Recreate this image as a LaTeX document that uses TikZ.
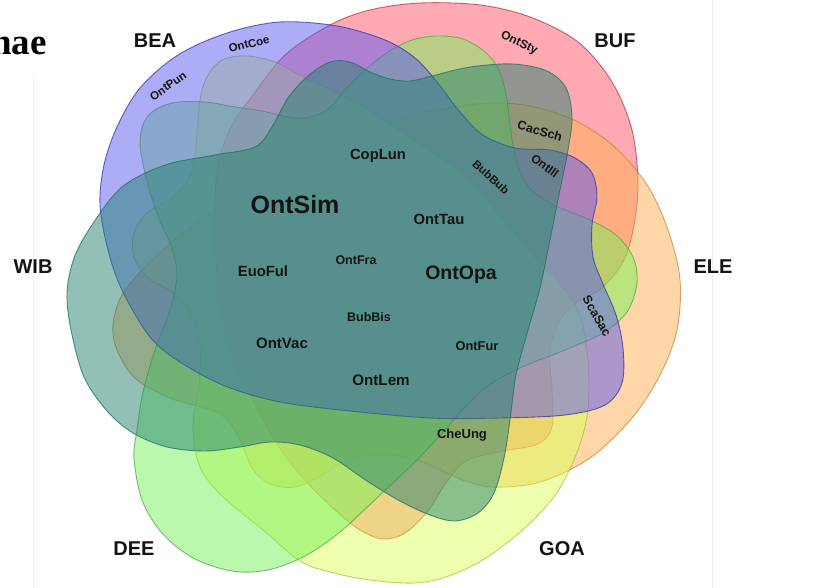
\documentclass[tikz,border=0pt]{standalone}
\usepackage{fontspec}
\setmainfont{Liberation Sans}
\newfontfamily\headserif{Liberation Serif}
\definecolor{beaC}{RGB}{90,90,240}
\definecolor{beaL}{RGB}{50,50,170}
\definecolor{bufC}{RGB}{255,85,105}
\definecolor{bufL}{RGB}{185,50,60}
\definecolor{eleC}{RGB}{255,175,80}
\definecolor{eleL}{RGB}{200,130,60}
\definecolor{goaC}{RGB}{220,255,90}
\definecolor{goaL}{RGB}{165,195,60}
\definecolor{deeC}{RGB}{120,240,90}
\definecolor{deeL}{RGB}{80,170,70}
\definecolor{wibC}{RGB}{40,130,110}
\definecolor{wibL}{RGB}{35,110,95}
\definecolor{ink}{RGB}{20,20,20}
\begin{document}
\begin{tikzpicture}[x=1pt,y=-1pt,
  region/.style={line width=0.9pt, fill opacity=0.5, draw opacity=0.75},
  setlabel/.style={font=\bfseries\fontsize{20}{20}\selectfont, text=ink, inner sep=0pt},
  sp/.style={font=\bfseries\fontsize{#1}{#1}\selectfont, text=ink, inner sep=0pt},
  frame/.style={draw=black!7, line width=0.6pt}
]
\useasboundingbox (0,0) rectangle (832,588);
\fill[white] (0,0) rectangle (832,588);
\draw[frame] (33,75) -- (33,588);
\draw[frame] (712,0) -- (712,588);

% BUF
\draw[region, fill=bufC, draw=bufL] plot[smooth cycle, tension=0.55] coordinates {
 (215,200) (219,160) (232,125) (253,95) (285,55) (330,25) (370,10) (420,3) (480,5)
 (530,17) (578,42) (612,82) (632,130) (638,183) (634,225) (624,260) (603,287)
 (578,302) (560,320) (550,350) (552,390) (552,427) (538,444) (503,451) (466,461)
 (446,483) (427,512) (405,533) (383,539) (360,530) (335,510) (303,478) (277,444)
 (253,401) (234,360) (222,315) (216,260)};

% ELE
\draw[region, fill=eleC, draw=eleL] plot[smooth cycle, tension=0.55] coordinates {
 (113,325) (122,295) (150,262) (193,225) (247,190) (300,160) (337,141) (387,123)
 (437,110) (490,103) (535,107) (580,123) (618,150) (649,188) (669,233) (680,280)
 (677,330) (660,375) (632,418) (590,458) (540,482) (492,487) (460,479) (430,465)
 (400,456) (372,455) (345,461) (320,476) (295,487) (270,484) (252,468) (240,440)
 (220,414) (170,398) (135,378) (117,350)};

% GOA
\draw[region, fill=goaC, draw=goaL] plot[smooth cycle, tension=0.55] coordinates {
 (207,77) (222,60) (247,56) (275,62) (303,77) (353,101) (403,133) (453,167)
 (485,198) (530,252) (558,281) (579,313) (587,350) (589,390) (586,422) (576,455)
 (556,494) (526,527) (486,558) (449,576) (415,583) (370,580) (330,572) (300,561)
 (262,529) (222,496) (200,467) (193,427) (199,385) (200,345) (190,312) (172,292)
 (148,278) (134,257) (134,233) (148,212) (175,196) (192,170) (197,133) (200,100)};

% DEE
\draw[region, fill=deeC, draw=deeL] plot[smooth cycle, tension=0.55] coordinates {
 (140,143) (148,116) (172,103) (205,102) (235,107) (262,111) (283,116) (305,118)
 (327,110) (345,90) (365,70) (388,52) (412,40) (437,36) (463,39) (485,52) (499,70)
 (507,100) (513,145) (525,182) (550,203) (590,220) (616,235) (633,257) (637,283)
 (627,312) (603,333) (565,350) (520,368) (488,386) (465,407) (445,430) (415,462)
 (380,495) (340,532) (305,556) (268,570) (232,571) (193,558) (162,533) (142,500)
 (134,458) (137,430) (143,392) (156,347) (170,310) (177,275) (171,246) (159,218)
 (148,185)};

% BEA
\draw[region, fill=beaC, draw=beaL] plot[smooth cycle, tension=0.55] coordinates {
 (122,290) (108,250) (100,205) (104,165) (117,127) (140,88) (178,55) (227,33)
 (280,22) (337,26) (385,40) (415,58) (437,82) (460,112) (483,135) (515,148)
 (550,150) (575,158) (592,173) (597,197) (592,225) (593,257) (603,284) (616,315)
 (623,348) (622,383) (605,405) (565,415) (500,418) (430,418) (350,411) (280,402)
 (225,386) (180,362) (150,337)};

% WIB
\draw[region, fill=wibC, draw=wibL] plot[smooth cycle, tension=0.55] coordinates {
 (67,293) (71,330) (84,377) (107,411) (133,433) (167,447) (205,451) (240,447)
 (270,442) (300,445) (333,458) (367,481) (400,501) (430,515) (455,521) (478,513)
 (494,493) (504,458) (510,420) (516,375) (528,330) (540,288) (550,240) (560,190)
 (568,150) (572,117) (566,88) (547,71) (513,64) (470,67) (432,76) (410,81)
 (390,79) (370,72) (350,62) (330,62) (308,76) (288,98) (272,127) (255,147)
 (215,155) (165,165) (122,187) (92,225) (74,258)};

% heading fragment
\node[anchor=base east, inner sep=0pt, font=\headserif\bfseries\fontsize{37}{37}\selectfont, text=black] (head) at (47,55) {nae};

% set names
\node[setlabel] (bea) at (155,41) {BEA};
\node[setlabel] (buf) at (615,41) {BUF};
\node[setlabel] (wib) at (33,267) {WIB};
\node[setlabel] (ele) at (713,267) {ELE};
\node[setlabel] (dee) at (134,549) {DEE};
\node[setlabel] (goa) at (562,549) {GOA};

% species
\node[sp=11.5, rotate=14] (ontcoe) at (249,44) {OntCoe};
\node[sp=11.5, rotate=35] (ontpun) at (168,86) {OntPun};
\node[sp=12, rotate=-26] (ontsty) at (519,43) {OntSty};
\node[sp=12.5, rotate=-16] (cacsch) at (540,131) {CacSch};
\node[sp=12, rotate=-36] (ontill) at (545,166) {OntIll};
\node[sp=11.5, rotate=-42] (bubbub) at (491,177) {BubBub};
\node[sp=12.5, rotate=-60] (scasac) at (597,316) {ScaSac};
\node[sp=14.8] (coplun) at (378,156) {CopLun};
\node[sp=25] (ontsim) at (295,205) {OntSim};
\node[sp=14.8] (onttau) at (439,219) {OntTau};
\node[sp=12.5] (ontfra) at (356,260) {OntFra};
\node[sp=14.8] (euoful) at (263,271) {EuoFul};
\node[sp=19.5] (ontopa) at (461,275) {OntOpa};
\node[sp=12.5] (bubbis) at (369,317) {BubBis};
\node[sp=15] (ontvac) at (282,343) {OntVac};
\node[sp=12.8] (ontfur) at (477,346) {OntFur};
\node[sp=15.2] (ontlem) at (381,380) {OntLem};
\node[sp=13] (cheung) at (462,435) {CheUng};
\end{tikzpicture}
\end{document}
